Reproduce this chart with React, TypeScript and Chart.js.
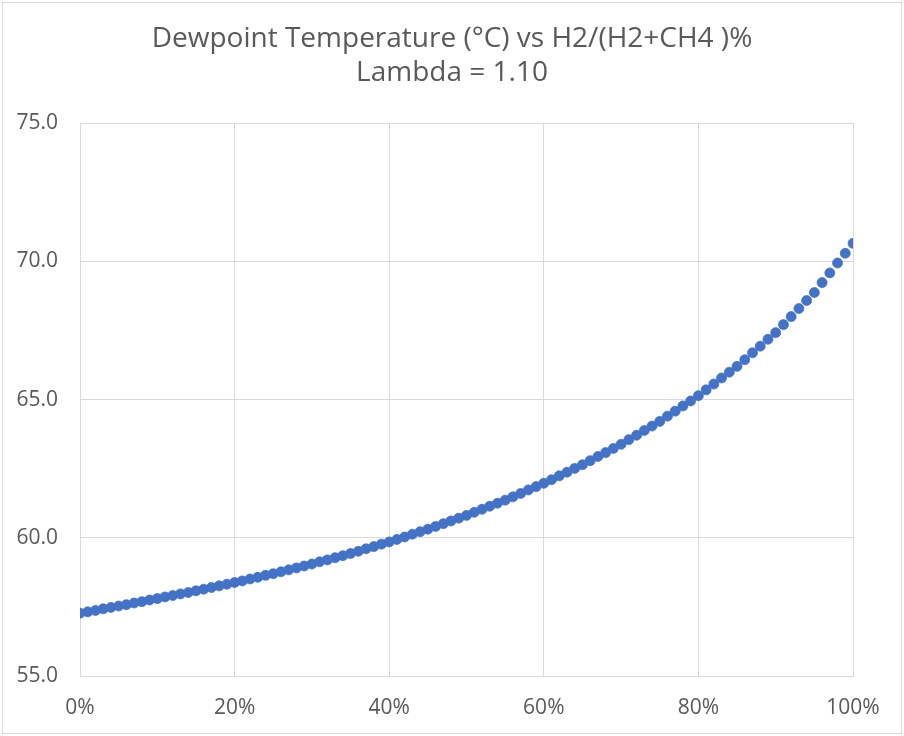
import React, { useEffect, useRef } from "react";
import { Chart, registerables } from "chart.js";

Chart.register(...registerables);

const titleLines = ["Dewpoint Temperature (°C) vs H2/(H2+CH4 )%", "Lambda = 1.10"];

const h2Percent = [
  0, 1, 2, 3, 4, 5, 6, 7, 8, 9, 10, 11, 12, 13, 14, 15, 16, 17, 18, 19, 20,
  21, 22, 23, 24, 25, 26, 27, 28, 29, 30, 31, 32, 33, 34, 35, 36, 37, 38, 39, 40,
  41, 42, 43, 44, 45, 46, 47, 48, 49, 50, 51, 52, 53, 54, 55, 56, 57, 58, 59, 60,
  61, 62, 63, 64, 65, 66, 67, 68, 69, 70, 71, 72, 73, 74, 75, 76, 77, 78, 79, 80,
  81, 82, 83, 84, 85, 86, 87, 88, 89, 90, 91, 92, 93, 94, 95, 96, 97, 98, 99, 100,
];

const dewpointC = [
  57.27, 57.32, 57.37, 57.43, 57.48, 57.53,
  57.58, 57.64, 57.69, 57.75, 57.80,
  57.86, 57.91, 57.97, 58.02, 58.08,
  58.14, 58.20, 58.26, 58.32, 58.38,
  58.44, 58.51, 58.57, 58.64, 58.70,
  58.77, 58.84, 58.91, 58.98, 59.05,
  59.13, 59.20, 59.28, 59.35, 59.43,
  59.51, 59.60, 59.68, 59.77, 59.85,
  59.94, 60.03, 60.13, 60.22, 60.31,
  60.41, 60.51, 60.61, 60.71, 60.81,
  60.92, 61.03, 61.14, 61.25, 61.36,
  61.48, 61.60, 61.73, 61.85, 61.97,
  62.10, 62.24, 62.37, 62.51, 62.64,
  62.79, 62.94, 63.08, 63.23, 63.38,
  63.55, 63.71, 63.88, 64.04, 64.21,
  64.40, 64.58, 64.77, 64.95, 65.14,
  65.35, 65.56, 65.78, 65.99, 66.20,
  66.44, 66.69, 66.93, 67.18, 67.42,
  67.71, 68.00, 68.29, 68.58, 68.87,
  69.23, 69.58, 69.94, 70.29, 70.65,
];

const yMin = 55;
const yMax = 75;
const yStep = 5;
const xMin = 0;
const xMax = 100;
const xStep = 20;

const FONT = "'Open Sans', sans-serif";
const TEXT = "#595959";
const GRID = "#d9d9d9";
const BLUE = "#4472C4";

export default function App() {
  const ref = useRef<HTMLCanvasElement | null>(null);

  useEffect(() => {
    document.body.style.margin = "0";
    const canvas = ref.current;
    if (!canvas) return;
    const points = h2Percent.map((x, i) => ({ x, y: dewpointC[i] }));
    const chart = new Chart(canvas, {
      type: "scatter",
      data: {
        datasets: [
          {
            data: points,
            backgroundColor: BLUE,
            borderColor: BLUE,
            borderWidth: 0.75,
            pointRadius: 5,
            pointHoverRadius: 5,
            xAxisID: "x",
            yAxisID: "y",
          },
        ],
      },
      options: {
        animation: false,
        responsive: false,
        maintainAspectRatio: false,
        layout: { padding: { left: 0, right: 0, top: 0, bottom: 0 } },
        plugins: {
          legend: { display: false },
          tooltip: { enabled: false },
          title: {
            display: true,
            text: titleLines,
            color: TEXT,
            font: { family: FONT, size: 28, weight: "normal", lineHeight: 1.18 },
            padding: { top: 23, bottom: 34 },
          },
        },
        scales: {
          x: {
            type: "linear",
            min: xMin,
            max: xMax,
            grid: { color: GRID, drawTicks: false, lineWidth: 1 },
            border: { color: GRID },
            ticks: {
              stepSize: xStep,
              padding: 19,
              color: TEXT,
              font: { family: FONT, size: 21 },
              callback: (v: any) => `${v}%`,
              maxRotation: 0,
            },
            afterFit: (s: any) => {
              s.height = 60;
            },
          },
          y: {
            type: "linear",
            position: "left",
            min: yMin,
            max: yMax,
            grid: { color: GRID, drawTicks: false, lineWidth: 1 },
            border: { color: GRID },
            ticks: {
              stepSize: yStep,
              padding: 22,
              color: TEXT,
              font: { family: FONT, size: 21 },
              callback: (v: any) => Number(v).toFixed(1),
            },
            afterFit: (s: any) => {
              s.width = 80;
            },
          },
          yRightSpace: {
            type: "linear",
            position: "right",
            min: yMin,
            max: yMax,
            display: true,
            grid: { display: false, drawTicks: false },
            border: { display: false },
            ticks: { display: false },
            afterFit: (s: any) => {
              s.width = 51;
            },
          },
        },
      },
    });
    return () => chart.destroy();
  }, []);

  return (
    <div style={{ position: "relative", width: 904, height: 736, background: "#fff" }}>
      <canvas ref={ref} width={904} height={736} style={{ position: "absolute", left: 0, top: 0 }} />
      <div
        style={{
          position: "absolute",
          left: 2,
          top: 2,
          width: 898,
          height: 730,
          border: "1px solid #d9d9d9",
          pointerEvents: "none",
        }}
      />
    </div>
  );
}
